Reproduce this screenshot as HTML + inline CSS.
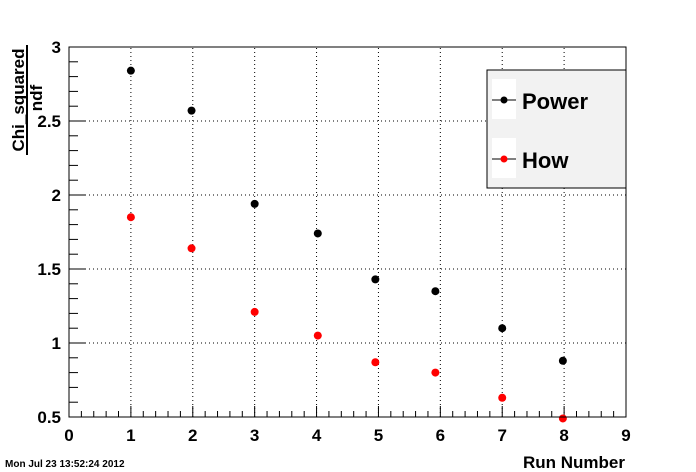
<!DOCTYPE html>
<html><head><meta charset="utf-8"><style>
body{margin:0;background:#fff;}
svg{display:block;font-family:"Liberation Sans",sans-serif;font-weight:bold;}
</style></head><body>
<svg width="696" height="472" viewBox="0 0 696 472">
<rect x="0" y="0" width="696" height="472" fill="#fff"/>
<g id="grid"></g>
<g id="axes"></g>
<g id="marks"></g>
<rect x="69" y="47" width="557" height="370" fill="none" stroke="#000" stroke-width="1"/>
<g>
<text transform="translate(24,100) rotate(-90)" text-anchor="middle" font-size="17">Chi_squared</text>
<line x1="27" y1="45" x2="27" y2="155" stroke="#000" stroke-width="2"/>
<text transform="translate(42,98) rotate(-90)" text-anchor="middle" font-size="17">ndf</text>
</g>
<text x="625" y="468" text-anchor="end" font-size="17">Run Number</text>
<text x="5" y="467" font-size="10">Mon Jul 23 13:52:24 2012</text>
<g>
<rect x="487" y="70" width="139" height="118" fill="#f2f2f2" stroke="#000" stroke-width="1"/>
<rect x="492" y="79" width="24" height="40" fill="#fff"/>
<rect x="492" y="138" width="24" height="40" fill="#fff"/>
<g>
<line x1="492" y1="100" x2="516" y2="100" stroke="#000"/><circle cx="504" cy="100" r="3.5" fill="#000"/>
<text x="522" y="109" font-size="22">Power</text></g>
<g>
<line x1="492" y1="159" x2="516" y2="159" stroke="#000"/><circle cx="504" cy="159" r="3.5" fill="#f00"/>
<text x="522" y="168" font-size="22">How</text></g>
</g>
</svg>
<script>
const runs=[1,1.98,3,4.02,4.95,5.92,7,7.98];
const powerValues=[2.84,2.57,1.94,1.74,1.43,1.35,1.10,0.88];
const howValues=[1.85,1.64,1.21,1.05,0.87,0.80,0.63,0.49];
const xTicks=["0","1","2","3","4","5","6","7","8","9"];
const yTicks=["0.5","1","1.5","2","2.5","3"];
const NS="http://www.w3.org/2000/svg";
const X0=69,X1=626,Y0=417,Y1=47,xmin=0,xmax=9,ymin=0.5,ymax=3;
const xs=v=>X0+(v-xmin)/(xmax-xmin)*(X1-X0);
const ys=v=>Y0-(v-ymin)/(ymax-ymin)*(Y0-Y1);
function mk(t,a,p){const e=document.createElementNS(NS,t);for(const k in a)e.setAttribute(k,a[k]);p.appendChild(e);return e;}
const grid=document.getElementById('grid'),axes=document.getElementById('axes'),marks=document.getElementById('marks');
xTicks.forEach(s=>{const v=parseFloat(s);const x=xs(v);
 if(v>xmin&&v<xmax){const g=mk('line',{x1:x,x2:x,y1:Y0,y2:Y1,stroke:'#000','stroke-dasharray':'1,3'},grid);
 
 }
 const t=mk('line',{x1:x,x2:x,y1:Y0,y2:Y0-11,stroke:'#000'},axes);
 
 
 const l=mk('text',{x:x,y:Y0+24,'text-anchor':'middle','font-size':'17'},axes);l.textContent=s;
 
 
 if(v<xmax)for(let i=1;i<5;i++){const xm=xs(v+i*0.2);const m=mk('line',{x1:xm,x2:xm,y1:Y0,y2:Y0-6,stroke:'#000'},axes);
 
 }
});
yTicks.forEach(s=>{const v=parseFloat(s);const y=ys(v);
 if(v>ymin&&v<ymax){const g=mk('line',{x1:X0,x2:X1,y1:y,y2:y,stroke:'#000','stroke-dasharray':'1,3'},grid);
 
 }
 const t=mk('line',{x1:X0,x2:X0+17,y1:y,y2:y,stroke:'#000'},axes);
 
 
 const l=mk('text',{x:X0-8,y:y+6,'text-anchor':'end','font-size':'17'},axes);l.textContent=s;
 
 
 if(v<ymax)for(let i=1;i<5;i++){const ym=ys(v+i*0.1);const m=mk('line',{x1:X0,x2:X0+9,y1:ym,y2:ym,stroke:'#000'},axes);
 
 }
});
runs.forEach((r,i)=>{
 const p=mk('circle',{cx:xs(r),cy:ys(powerValues[i]),r:4,fill:'#000'},marks);
 
 
 const h=mk('circle',{cx:xs(r),cy:ys(howValues[i]),r:4,fill:'#f00'},marks);
 
 
});
</script>
</body></html>
